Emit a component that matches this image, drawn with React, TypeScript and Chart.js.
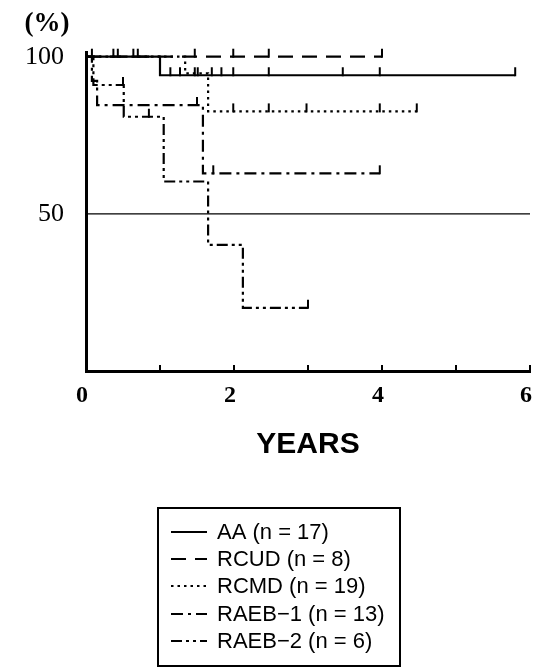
import React, { useEffect, useRef } from "react";
import { Chart, registerables } from "chart.js";

Chart.register(...registerables);

// ---- Data ----
const xTickValues = [0, 1, 2, 3, 4, 5, 6];
const xTickLabels = ["0", "", "2", "", "4", "", "6"];
const yTickValues = [50, 100];
const yTickLabels = ["50", "100"];

const seriesNames = ["AA (n = 17)", "RCUD (n = 8)", "RCMD (n = 19)", "RAEB\u22121 (n = 13)", "RAEB\u22122 (n = 6)"];

const aaTimes = [0, 1.0, 5.8];
const aaSurv = [100, 94.1, 94.1];
const aaCensorT = [1.14, 1.27, 1.47, 1.51, 1.7, 1.83, 1.99, 2.47, 3.47, 3.97, 5.8];
const aaCensorS = [94.1, 94.1, 94.1, 94.1, 94.1, 94.1, 94.1, 94.1, 94.1, 94.1, 94.1];

const rcudTimes = [0, 4.0];
const rcudSurv = [100, 100];
const rcudCensorT = [0.08, 0.37, 0.43, 0.64, 0.7, 1.47, 1.99, 2.47, 4.0];
const rcudCensorS = [100, 100, 100, 100, 100, 100, 100, 100, 100];

const rcmdTimes = [0, 1.34, 1.65, 4.47];
const rcmdSurv = [100, 94.7, 82.6, 82.6];
const rcmdCensorT = [1.99, 2.47, 2.98, 3.97, 4.47];
const rcmdCensorS = [82.6, 82.6, 82.6, 82.6, 82.6];

const raeb1Times = [0, 0.08, 0.15, 1.58, 3.97];
const raeb1Surv = [100, 92.3, 84.6, 62.9, 62.9];
const raeb1CensorT = [1.5, 1.72, 3.97];
const raeb1CensorS = [84.6, 62.9, 62.9];

const raeb2Times = [0, 0.1, 0.51, 1.05, 1.65, 2.12, 3.0];
const raeb2Surv = [100, 91, 80.9, 60.3, 40.1, 20.1, 20.1];
const raeb2CensorT = [0.5, 0.85, 3.0];
const raeb2CensorS = [91, 80.9, 20.1];

const refLineX = [0, 6];
const refLineY = [50, 50];

// ---- styles ----
const dashes: number[][] = [[], [15, 9], [2.5, 4], [12, 5, 3, 5], [11, 4, 3, 4, 3, 4]];

const toPts = (xs: number[], ys: number[]) => xs.map((x, i) => ({ x, y: ys[i] }));

export default function App() {
  const ref = useRef<HTMLCanvasElement | null>(null);

  useEffect(() => {
    document.body.style.margin = "0";
    const canvas = ref.current;
    if (!canvas) return;

    const censors = [
      [aaCensorT, aaCensorS],
      [rcudCensorT, rcudCensorS],
      [rcmdCensorT, rcmdCensorS],
      [raeb1CensorT, raeb1CensorS],
      [raeb2CensorT, raeb2CensorS],
    ];

    const extras = {
      id: "extras",
      afterDatasetsDraw(chart: any) {
        const ctx = chart.ctx;
        const xs = chart.scales.x;
        const ys = chart.scales.y;
        ctx.save();
        ctx.strokeStyle = "#000";
        ctx.lineWidth = 2;
        ctx.setLineDash([]);
        // censor ticks (upward)
        censors.forEach(([ts, ss]) => {
          ts.forEach((t: number, i: number) => {
            const px = xs.getPixelForValue(t);
            const py = ys.getPixelForValue(ss[i]);
            ctx.beginPath();
            ctx.moveTo(px, py + 1);
            ctx.lineTo(px, py - 8);
            ctx.stroke();
          });
        });
        // inward x-axis ticks
        const bottom = chart.chartArea.bottom;
        xTickValues.forEach((v) => {
          if (v === 0) return;
          const px = xs.getPixelForValue(v);
          ctx.beginPath();
          ctx.moveTo(px, bottom);
          ctx.lineTo(px, bottom - 6);
          ctx.stroke();
        });
        ctx.restore();
      },
      afterDraw(chart: any) {
        const ctx = chart.ctx;
        ctx.save();
        ctx.fillStyle = "#000";
        ctx.font = "bold 27px 'Liberation Serif'";
        ctx.textAlign = "center";
        ctx.textBaseline = "middle";
        ctx.fillText("(%)", 47, 24);

        // legend
        const bx = 158, by = 508, bw = 242, bh = 158;
        ctx.lineWidth = 2;
        ctx.strokeStyle = "#000";
        ctx.setLineDash([]);
        ctx.strokeRect(bx, by, bw, bh);
        const rowY = [532, 559, 586, 614, 641];
        ctx.font = "22px 'Liberation Sans'";
        ctx.textAlign = "left";
        chart.data.datasets.forEach((ds: any, i: number) => {
          if (i >= seriesNames.length) return;
          const y = rowY[i];
          ctx.lineWidth = 2;
          ctx.setLineDash(ds.borderDash || []);
          ctx.beginPath();
          ctx.moveTo(171, y);
          ctx.lineTo(207, y);
          ctx.stroke();
          ctx.setLineDash([]);
          ctx.fillText(ds.label, 217, y + 1);
        });
        ctx.restore();
      },
    };

    const allSeries = [
      [aaTimes, aaSurv],
      [rcudTimes, rcudSurv],
      [rcmdTimes, rcmdSurv],
      [raeb1Times, raeb1Surv],
      [raeb2Times, raeb2Surv],
    ];

    const datasets: any[] = allSeries.map(([t, s], i) => ({
      label: seriesNames[i],
      data: toPts(t as number[], s as number[]),
      borderColor: "#000",
      borderWidth: 2.2,
      borderDash: dashes[i],
      stepped: "before",
      pointRadius: 0,
      fill: false,
    }));
    datasets.push({
      label: "ref50",
      data: toPts(refLineX, refLineY),
      borderColor: "#000",
      borderWidth: 1.2,
      pointRadius: 0,
      fill: false,
    });

    const chart = new Chart(canvas, {
      type: "line",
      data: { datasets },
      plugins: [extras],
      options: {
        animation: false,
        responsive: false,
        events: [],
        layout: { padding: { left: 0, top: 52, right: 6, bottom: 0 } },
        plugins: { legend: { display: false }, tooltip: { enabled: false }, title: { display: false } },
        scales: {
          x: {
            type: "linear",
            min: 0,
            max: 6,
            grid: { display: false, drawTicks: false },
            border: { display: true, color: "#000", width: 3 },
            afterBuildTicks: (scale: any) => {
              scale.ticks = xTickValues.map((v) => ({ value: v }));
            },
            afterFit: (scale: any) => {
              scale.height = 301;
              scale.paddingLeft = 0;
              scale.paddingRight = 0;
            },
            ticks: {
              color: "#000",
              padding: 10,
              labelOffset: -4,
              autoSkip: false,
              maxRotation: 0,
              font: { family: "'Liberation Serif'", size: 24, weight: "bold" },
              callback: (v: any) => xTickLabels[xTickValues.indexOf(Number(v))] ?? "",
            },
            title: {
              display: true,
              text: "YEARS",
              color: "#000",
              font: { family: "'Liberation Sans'", size: 30, weight: "bold" },
              padding: { top: 0, bottom: 209 },
            },
          },
          y: {
            type: "linear",
            min: 0,
            max: 101.5,
            grid: { display: false, drawTicks: false },
            border: { display: true, color: "#000", width: 3 },
            afterBuildTicks: (scale: any) => {
              scale.ticks = yTickValues.map((v) => ({ value: v }));
            },
            afterFit: (scale: any) => {
              scale.width = 86;
              scale.paddingTop = 0;
              scale.paddingBottom = 0;
            },
            ticks: {
              color: "#000",
              padding: 22,
              font: { family: "'Liberation Serif'", size: 26, weight: "normal" },
              callback: (v: any) => yTickLabels[yTickValues.indexOf(Number(v))] ?? "",
            },
          },
        },
      },
    });
    return () => chart.destroy();
  }, []);

  return (
    <div style={{ width: 536, height: 672, background: "#fff" }}>
      <canvas ref={ref} width={536} height={672} style={{ display: "block" }} />
    </div>
  );
}
